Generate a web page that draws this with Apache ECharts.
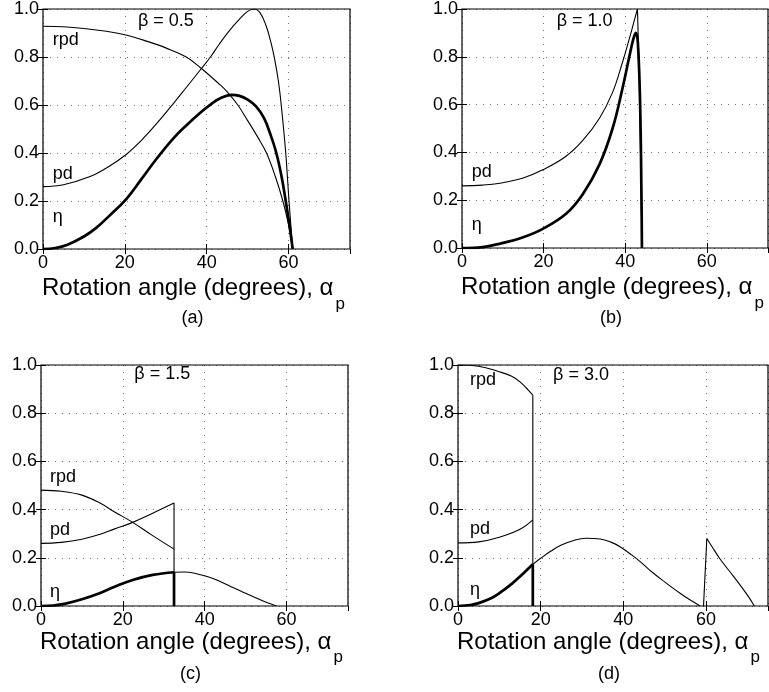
<!DOCTYPE html>
<html><head><meta charset="utf-8">
<script src="https://cdn.jsdelivr.net/npm/echarts@6/dist/echarts.min.js"></script>
<style>html,body{margin:0;padding:0;background:#fff}#c{width:769px;height:692px}</style>
</head><body><div id="c"></div>
<script>
// ---------- data ----------
const xTickValues = [0, 20, 40, 60];
const yTickLabels = ['0.0', '0.2', '0.4', '0.6', '0.8', '1.0'];
const axisTitle = 'Rotation angle (degrees), α';
const axisSub = 'p';
const captions = ['(a)', '(b)', '(c)', '(d)'];
const betas = ['β = 0.5', 'β = 1.0', 'β = 1.5', 'β = 3.0'];

// (a) beta = 0.5
const a_rpd = [[0,0.928],[5,0.926],[10,0.919],[15,0.908],[20,0.893],[25.7,0.864],[30,0.838],[35,0.8],[38.7,0.752],[43.2,0.685],[45,0.655],[47.6,0.6],[50,0.535],[52.5,0.465],[54.6,0.4],[56.8,0.3],[58.6,0.2],[60,0.1],[61,0]];
const a_pd = [[0,0.26],[5,0.268],[11.5,0.302],[16,0.343],[20.4,0.395],[24,0.452],[27.7,0.521],[31.8,0.605],[35,0.673],[38.7,0.752],[40.9,0.8],[43,0.852],[45.3,0.905],[48,0.958],[50,0.99],[51.5,1.0],[53,0.985],[54.5,0.93],[55.7,0.86],[56.6,0.79],[57.5,0.7],[58.2,0.6],[59.3,0.4],[60.1,0.2],[61,0]];
const a_eta = [[0,0],[3,0.004],[6,0.018],[10,0.052],[13,0.088],[16,0.135],[20.4,0.209],[24,0.29],[27.7,0.375],[31.8,0.46],[35,0.515],[38.7,0.572],[41,0.603],[43.2,0.627],[46,0.642],[48,0.638],[50,0.622],[52,0.595],[54,0.545],[55.5,0.48],[57,0.4],[58.3,0.3],[59.3,0.2],[60.2,0.1],[61,0]];

// (b) beta = 1.0
const b_pd = [[0,0.26],[5,0.263],[9.3,0.271],[15,0.293],[19.8,0.327],[25.5,0.384],[29.6,0.45],[33.7,0.543],[36.9,0.651],[39.3,0.775],[41,0.875],[42.2,0.95],[43,1.0]];
const b_pd_fall = [[43,1.0],[43.4,0.75],[43.8,0.35],[44.1,0]];
const b_eta = [[0,0],[5,0.004],[9.3,0.018],[15,0.045],[19.8,0.08],[25.5,0.143],[29.6,0.225],[33.7,0.35],[36.9,0.5],[39.3,0.665],[41,0.8],[42,0.875],[42.6,0.9],[43.1,0.86],[43.66,0.6],[44.0,0.2],[44.1,0]];

// (c) beta = 1.5
const c_rpd = [[0,0.481],[5,0.476],[10,0.46],[14.3,0.428],[18,0.39],[22.4,0.347],[27,0.295],[32.5,0.236]];
const c_pd = [[0,0.26],[5,0.264],[10,0.277],[14.3,0.297],[18,0.32],[22.4,0.347],[27.3,0.385],[32.5,0.427]];
const c_eta = [[0,0],[3,0.002],[6,0.01],[10,0.028],[14.3,0.053],[18,0.08],[22.4,0.108],[27.3,0.129],[32.5,0.14]];
const c_eta_rest = [[32.5,0.14],[35,0.141],[38,0.134],[41,0.12],[44,0.1],[47,0.076],[50,0.053],[53,0.03],[55.5,0.012],[57.5,0]];
const c_drop = [[32.5,0.427],[32.5,0]];
const c_drop_eta = [[32.5,0.14],[32.5,0]];

// (d) beta = 3.0
const d_rpd = [[0,1.0],[5,0.995],[10,0.972],[13,0.953],[15,0.93],[17,0.896],[18.1,0.875]];
const d_pd = [[0,0.262],[5,0.266],[10,0.285],[15,0.318],[18.1,0.357]];
const d_eta = [[0,0],[3,0.004],[5,0.012],[8,0.032],[10,0.053],[13,0.092],[15,0.122],[18.1,0.173]];
const d_eta_rest = [[18.1,0.173],[20,0.198],[22.5,0.228],[25,0.253],[28,0.272],[31,0.281],[34.4,0.278],[37,0.265],[39.2,0.246],[42,0.212],[44.5,0.178],[47,0.14],[50,0.1],[53.8,0.052],[56,0.027],[58.6,0]];
const d_drop = [[18.1,0.875],[18.1,0]];
const d_drop_eta = [[18.1,0.173],[18.1,0]];
const d_rise = [[59.4,0],[60.2,0.28]];
const d_tail = [[60.2,0.28],[61.5,0.245],[63.4,0.195],[66.7,0.122],[69.9,0.048],[71.7,0]];

// curve labels: [text, x (left edge), y (centre)]
const a_labels = [['rpd',2.4,0.87],['pd',2.4,0.314],['η',2.4,0.132],[betas[0],23.2,0.95]];
const b_labels = [['pd',2.4,0.316],['η',2.4,0.095],[betas[1],23.2,0.948]];
const c_labels = [['rpd',2.2,0.537],['pd',2.2,0.317],['η',2.2,0.058],[betas[2],22.8,0.963]];
const d_labels = [['rpd',2.9,0.938],['pd',2.9,0.32],['η',2.9,0.066],[betas[3],23,0.958]];

// ---------- layout / style ----------
const FONT = '"Liberation Sans", Arial, Helvetica, sans-serif';
const THIN = 1.1, THICK = 2.7;
const grids = [
  {left: 43, top: 7, width: 307, height: 242},
  {left: 462, top: 6, width: 306, height: 242},
  {left: 41, top: 365, width: 307, height: 241},
  {left: 458, top: 365, width: 310, height: 241}
];
const titleOff = [39, 39, 36, 36];
const subOff = [55, 55, 51, 51];
const captionY = [318, 318, 674, 674];

const panels = [
  {smooth: [[a_rpd, THIN], [a_pd, THIN], [a_eta, THICK]], straight: [], labels: a_labels},
  {smooth: [[b_pd, THIN], [b_eta, THICK]], straight: [[b_pd_fall, THIN]], labels: b_labels},
  {smooth: [[c_rpd, THIN], [c_pd, THIN], [c_eta, THICK], [c_eta_rest, THIN]], straight: [[c_drop, THIN], [c_drop_eta, THICK]], labels: c_labels},
  {smooth: [[d_rpd, THIN], [d_pd, THIN], [d_eta, THICK], [d_eta_rest, THIN], [d_tail, THIN]], straight: [[d_drop, THIN], [d_drop_eta, THICK], [d_rise, THIN]], labels: d_labels}
];

const xAxes = [], yAxes = [], series = [], graphics = [];
const gridOpt = grids.map(g => Object.assign({show: true, borderColor: '#000', borderWidth: 1.2, containLabel: false}, g));
const gridLine = {show: true, lineStyle: {color: '#000', width: 1, type: [1, 6], opacity: 0.55}};
const tick = {show: true, inside: true, length: 5, lineStyle: {color: '#000', width: 1}};

const xMin = xTickValues[0], xMax = 75, xInt = xTickValues[1] - xTickValues[0];
grids.forEach((g, i) => {
  xAxes.push({
    type: 'value', gridIndex: i, min: xMin, max: xMax, interval: xInt,
    axisLine: {show: false}, axisTick: tick,
    axisLabel: {show: true, color: '#000', fontSize: 18, fontFamily: FONT, margin: 5, showMaxLabel: false,
      formatter: v => (xTickValues.indexOf(v) >= 0 ? String(v) : '')},
    splitLine: gridLine
  });
  yAxes.push({
    type: 'value', gridIndex: i, min: 0, max: 1, interval: 0.2,
    axisLine: {show: false}, axisTick: tick,
    axisLabel: {show: true, color: '#000', fontSize: 18, fontFamily: FONT, margin: 4,
      formatter: v => yTickLabels[Math.round(v / 0.2)]},
    splitLine: gridLine
  });
});
grids.forEach((g, i) => {
  xAxes.push({
    type: 'value', gridIndex: i, position: 'top', min: xMin, max: xMax, interval: xInt,
    axisLine: {show: false}, axisLabel: {show: false}, splitLine: {show: false}, axisTick: tick
  });
  yAxes.push({
    type: 'value', gridIndex: i, position: 'right', min: 0, max: 1, interval: 0.2,
    axisLine: {show: false}, axisLabel: {show: false}, splitLine: {show: false}, axisTick: tick
  });
});

panels.forEach((p, i) => {
  p.smooth.forEach(([d, w]) => series.push({
    type: 'line', xAxisIndex: i, yAxisIndex: i, data: d, symbol: 'none', showSymbol: false,
    smooth: 0.4, lineStyle: {color: '#000', width: w}, clip: true, silent: true, z: 3
  }));
  p.straight.forEach(([d, w]) => series.push({
    type: 'line', xAxisIndex: i, yAxisIndex: i, data: d, symbol: 'none', showSymbol: false,
    smooth: false, lineStyle: {color: '#000', width: w}, clip: true, silent: true, z: 3
  }));
  series.push({
    type: 'scatter', xAxisIndex: i, yAxisIndex: i, symbolSize: 0, silent: true, z: 5,
    itemStyle: {opacity: 1},
    data: p.labels.map(l => ({name: l[0], value: [l[1], l[2]]})),
    label: {show: true, position: 'right', distance: 0, formatter: '{b}', color: '#000', opacity: 1,
      fontSize: 18, fontFamily: FONT, align: 'left', verticalAlign: 'middle'}
  });
});

// measure title width for subscript placement
const TITLE_FONT = '24px ' + FONT;
const ctx = document.createElement('canvas').getContext('2d');
ctx.font = TITLE_FONT;
const titleW = ctx.measureText(axisTitle).width;

grids.forEach((g, i) => {
  const bottom = g.top + g.height;
  graphics.push({type: 'text', x: g.left - 1, y: bottom + titleOff[i], silent: true,
    style: {text: axisTitle, font: TITLE_FONT, fill: '#000', textAlign: 'left', textVerticalAlign: 'middle'}});
  graphics.push({type: 'text', x: g.left - 1 + titleW + 2, y: bottom + subOff[i], silent: true,
    style: {text: axisSub, font: '17px ' + FONT, fill: '#000', textAlign: 'left', textVerticalAlign: 'middle'}});
  graphics.push({type: 'text', x: g.left + g.width / 2 - 4, y: captionY[i], silent: true,
    style: {text: captions[i], font: '18px ' + FONT, fill: '#000', textAlign: 'center', textVerticalAlign: 'middle'}});
});

const chart = echarts.init(document.getElementById('c'), null, {renderer: 'canvas'});
chart.setOption({
  animation: false,
  backgroundColor: '#fff',
  grid: gridOpt,
  xAxis: xAxes,
  yAxis: yAxes,
  series: series,
  graphic: graphics
});
</script></body></html>
